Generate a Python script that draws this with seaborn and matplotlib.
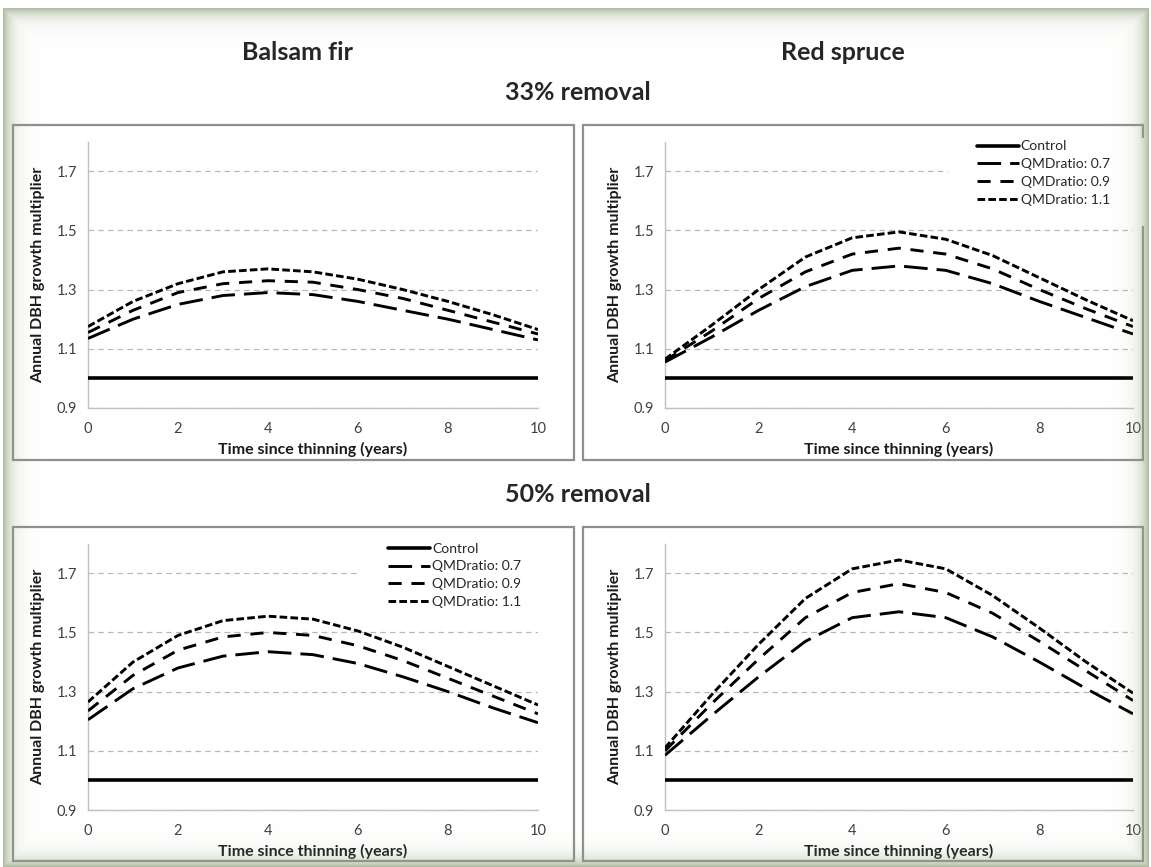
import numpy as np
import pandas as pd
import seaborn as sns
import matplotlib.pyplot as plt
from matplotlib.patches import Rectangle
from matplotlib.lines import Line2D

# data (years since thinning, annual DBH growth multiplier)
years = [0, 1, 2, 3, 4, 5, 6, 7, 8, 9, 10]
control = [1.0, 1.0, 1.0, 1.0, 1.0, 1.0, 1.0, 1.0, 1.0, 1.0, 1.0]

fir33_07 = [1.135, 1.200, 1.250, 1.280, 1.290, 1.283, 1.260, 1.230, 1.200, 1.165, 1.130]
fir33_09 = [1.155, 1.230, 1.290, 1.320, 1.330, 1.325, 1.300, 1.270, 1.230, 1.190, 1.150]
fir33_11 = [1.175, 1.260, 1.320, 1.360, 1.370, 1.360, 1.335, 1.300, 1.260, 1.215, 1.165]

spruce33_07 = [1.055, 1.140, 1.230, 1.310, 1.365, 1.380, 1.365, 1.320, 1.260, 1.205, 1.150]
spruce33_09 = [1.060, 1.160, 1.270, 1.360, 1.420, 1.440, 1.420, 1.370, 1.300, 1.235, 1.175]
spruce33_11 = [1.065, 1.180, 1.300, 1.410, 1.475, 1.495, 1.470, 1.415, 1.340, 1.265, 1.195]

fir50_07 = [1.205, 1.310, 1.380, 1.420, 1.435, 1.425, 1.395, 1.350, 1.300, 1.245, 1.195]
fir50_09 = [1.235, 1.355, 1.440, 1.485, 1.500, 1.490, 1.455, 1.405, 1.345, 1.285, 1.225]
fir50_11 = [1.265, 1.400, 1.490, 1.540, 1.555, 1.545, 1.505, 1.450, 1.385, 1.320, 1.255]

spruce50_07 = [1.085, 1.220, 1.350, 1.470, 1.550, 1.570, 1.550, 1.485, 1.400, 1.310, 1.225]
spruce50_09 = [1.100, 1.260, 1.410, 1.550, 1.635, 1.665, 1.635, 1.565, 1.470, 1.370, 1.270]
spruce50_11 = [1.110, 1.290, 1.460, 1.615, 1.715, 1.745, 1.715, 1.625, 1.515, 1.400, 1.295]

series_names = ["Control", "QMDratio: 0.7", "QMDratio: 0.9", "QMDratio: 1.1"]
col_titles = ["Balsam fir", "Red spruce"]
row_titles = ["33% removal", "50% removal"]
yticks = [0.9, 1.1, 1.3, 1.5, 1.7]
xticks = [0, 2, 4, 6, 8, 10]

sns.set_style("white")
plt.rcParams["font.family"] = ["Lato", "DejaVu Sans"]
plt.rcParams["lines.scale_dashes"] = False

styles = {
    "Control": dict(linestyle="-", lw=2.6),
    "QMDratio: 0.7": dict(linestyle=(0, (17, 6.5)), lw=2.1),
    "QMDratio: 0.9": dict(linestyle=(0, (9.5, 7)), lw=2.1),
    "QMDratio: 1.1": dict(linestyle=(0, (5.5, 2.3)), lw=2.1),
}

W, H = 1151, 867
fig = plt.figure(figsize=(W / 100, H / 100), dpi=100)
fig.patch.set_facecolor("white")


def fx(px):
    return px / W


def fy(py):
    return 1 - py / H


# panel boxes (left, top, right, bottom in pixels) and plot areas
boxes = [(13, 125, 574, 460), (583, 125, 1143, 460),
         (13, 527, 574, 861), (583, 527, 1143, 861)]
areas = [(88, 141.6, 538, 408), (665, 141.6, 1133, 408),
         (88, 543.7, 538, 810), (665, 543.7, 1133, 810)]
panels = [
    (fir33_07, fir33_09, fir33_11, False),
    (spruce33_07, spruce33_09, spruce33_11, True),
    (fir50_07, fir50_09, fir50_11, True),
    (spruce50_07, spruce50_09, spruce50_11, False),
]

for (bl, bt, br, bb) in boxes:
    fig.add_artist(Rectangle((fx(bl), fy(bb)), fx(br - bl), (bb - bt) / H,
                             transform=fig.transFigure, facecolor="white",
                             edgecolor="#8f8f8f", lw=1.6, zorder=0))

for (l, t, r, b), (s07, s09, s11, show_leg) in zip(areas, panels):
    ax = fig.add_axes([fx(l), fy(b), fx(r - l), (b - t) / H])
    ax.set_facecolor("none")
    ax.set_axisbelow(True)
    vals = [control, s07, s09, s11]
    for name, v in zip(series_names, vals):
        sns.lineplot(x=years, y=v, ax=ax, color="black",
                     legend=False, zorder=3, **styles[name])
    ax.set_xlim(0, 10)
    ax.set_ylim(0.9, 1.8)
    ax.set_xticks(xticks)
    ax.set_yticks(yticks)
    ax.set_yticklabels([f"{v:.1f}" for v in yticks])
    ax.yaxis.grid(True, color="#b8b8b8", linestyle=(0, (4, 3)), lw=0.9)
    ax.xaxis.grid(False)
    for s in ["top", "right"]:
        ax.spines[s].set_visible(False)
    for s in ["left", "bottom"]:
        ax.spines[s].set_color("#c0c0c0")
        ax.spines[s].set_linewidth(1.0)
    ax.tick_params(axis="both", direction="out", length=4, width=1,
                   color="#c0c0c0", labelsize=10.5, labelcolor="#404040")
    ax.tick_params(axis="x", pad=6)
    ax.tick_params(axis="y", pad=4)
    ax.set_xlabel("Time since thinning (years)", fontsize=11.5,
                  fontweight="bold", color="#1a1a1a", labelpad=4)
    ax.set_ylabel("Annual DBH growth multiplier", fontsize=11.5,
                  fontweight="bold", color="#1a1a1a", labelpad=8)
    if show_leg:
        ax.add_patch(Rectangle((0.605, 0.683), 0.42, 0.33, transform=ax.transAxes,
                               facecolor="white", edgecolor="none", zorder=1,
                               clip_on=False))
        handles = [Line2D([], [], color="black", **styles[n]) for n in series_names]
        ax.legend(handles, series_names, loc="upper left",
                  bbox_to_anchor=(0.655, 1.025), frameon=False, fontsize=10,
                  handlelength=3.0, handletextpad=0.15, labelspacing=0.42,
                  borderaxespad=0, labelcolor="#262626")

# column and row headings
fig.text(fx(298), fy(52), col_titles[0], ha="center", va="center",
         fontsize=18, fontweight="bold")
fig.text(fx(843), fy(52), col_titles[1], ha="center", va="center",
         fontsize=18, fontweight="bold")
fig.text(fx(578), fy(92), row_titles[0], ha="center", va="center",
         fontsize=18, fontweight="bold")
fig.text(fx(578), fy(494), row_titles[1], ha="center", va="center",
         fontsize=18, fontweight="bold")

# soft greenish picture frame around the whole figure
xx, yy = np.meshgrid(np.arange(W), np.arange(H))
d = np.minimum.reduce([xx - 3, yy - 8, 1148 - xx, 866 - yy]).astype(float)
alpha = np.where(d >= 0, 0.72 * np.exp(-d / 8.0), 0.0)
rgba = np.zeros((H, W, 4))
rgba[..., 0] = 0.58
rgba[..., 1] = 0.64
rgba[..., 2] = 0.50
rgba[..., 3] = alpha
ov = fig.add_axes([0, 0, 1, 1], zorder=20)
ov.imshow(rgba, extent=(0, W, H, 0), aspect="auto", interpolation="bilinear")
ov.set_xlim(0, W)
ov.set_ylim(H, 0)
ov.axis("off")

fig.savefig("out.png", dpi=100)
